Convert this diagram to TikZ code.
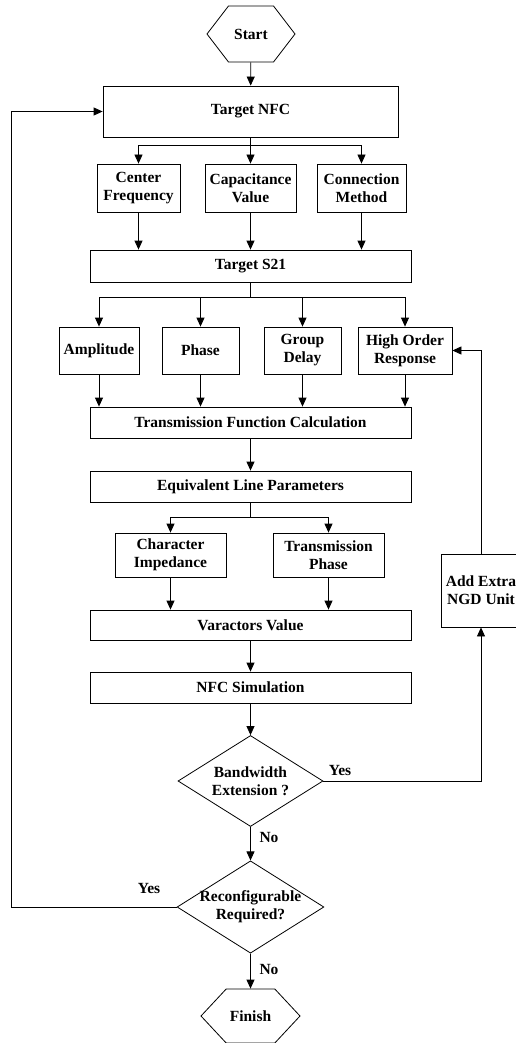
\documentclass[tikz,border=0pt]{standalone}
\usepackage{fontspec}
\setmainfont{Liberation Serif}
\usepackage{tikz}
\usetikzlibrary{arrows.meta,positioning,shapes.geometric,shapes.symbols}

\begin{document}
\begin{tikzpicture}[
  x=1pt, y=1pt,
  every node/.style={font=\fontsize{15.5}{18}\selectfont\bfseries},
  box/.style={draw,line width=0.8pt,align=center,minimum width=321pt,minimum height=31pt,inner sep=1pt},
  sbox/.style={draw,line width=0.8pt,align=center,minimum height=47pt,inner sep=1pt},
  dec/.style={draw,line width=0.8pt,diamond,aspect=1.59,align=center,minimum width=145pt,minimum height=91pt,inner sep=0pt,inner xsep=-3pt},
  term/.style={draw,line width=0.8pt,signal,signal to=west and east,inner sep=0pt},
  arrow/.style={-{Triangle[length=9pt,width=8pt]},line width=0.8pt}
]
  \useasboundingbox (0,0) rectangle (516,-1043);
  % main column
  \node[term,signal pointer angle=105,minimum width=88pt,minimum height=56pt] (start) at (251,-34) {Start};
  \node[box,minimum width=295pt,minimum height=51pt] (nfc) at (250.5,-111.5) {Target NFC};
  \node[sbox,minimum width=83pt,minimum height=48pt] (cf) at (138.5,-188) {Center\\Frequency};
  \node[sbox,minimum width=91pt,minimum height=48pt] (cv) at (250.5,-188) {Capacitance\\Value};
  \node[sbox,minimum width=89pt,minimum height=48pt] (cm) at (361.5,-188) {Connection\\Method};
  \node[box,minimum height=32pt] (s21) at (250.5,-266) {Target S21};
  \node[sbox,minimum width=80pt] (amp) at (99,-350.5) {Amplitude};
  \node[sbox,minimum width=77pt] (ph) at (200.5,-350.5) {Phase};
  \node[sbox,minimum width=77pt] (gd) at (302.5,-350.5) {Group\\Delay};
  \node[sbox,minimum width=94pt] (hor) at (405,-350.5) {High Order\\Response};
  \node[box] (tfc) at (250.5,-422.5) {Transmission Function Calculation};
  \node[box] (elp) at (250.5,-486.5) {Equivalent Line Parameters};
  \node[sbox,minimum width=111pt,minimum height=44pt] (ci) at (170.5,-555) {Character\\Impedance};
  \node[sbox,minimum width=111pt,minimum height=44pt] (tp) at (328.5,-555) {Transmission\\Phase};
  \node[box,minimum height=30pt] (vv) at (250.5,-625) {Varactors Value};
  \node[box] (sim) at (250.5,-687.5) {NFC Simulation};
  \node[dec] (bw) at (250.5,-781) {Bandwidth\\Extension ?};
  \node[sbox,minimum width=79pt,minimum height=73pt] (extra) at (481,-590.5) {Add Extra\\NGD Unit};
  \node[dec] (rc) at (250.5,-907) {Reconfigurable\\Required?};
  \node[term,signal pointer angle=94,minimum width=99pt,minimum height=54pt] (fin) at (250.5,-1016) {Finish};
  % labels
  \node (yes1) at (340,-770) {Yes};
  \node (no1) at (269,-837) {No};
  \node (yes2) at (149,-888) {Yes};
  \node (no2) at (269,-969) {No};
  \coordinate (lp) at (11,-907);

  \draw[arrow] (start) -- (nfc);
  \draw[arrow] (nfc.south) -- ++(0,-8) -| (cf.north);
  \draw[arrow] (nfc.south) -- (cv.north);
  \draw[arrow] (nfc.south) -- ++(0,-8) -| (cm.north);
  \foreach \n in {cf,cv,cm} \draw[arrow] (\n.south) -- (\n.south |- s21.north);
  \draw[arrow] (s21.south) -- ++(0,-15) -| (amp.north);
  \draw[arrow] (s21.south) -- ++(0,-15) -| (ph.north);
  \draw[arrow] (s21.south) -- ++(0,-15) -| (gd.north);
  \draw[arrow] (s21.south) -- ++(0,-15) -| (hor.north);
  \foreach \n in {amp,ph,gd,hor} \draw[arrow] (\n.south) -- (\n.south |- tfc.north);
  \draw[arrow] (tfc) -- (elp);
  \draw[arrow] (elp.south) -- ++(0,-15) -| (ci.north);
  \draw[arrow] (elp.south) -- ++(0,-15) -| (tp.north);
  \foreach \n in {ci,tp} \draw[arrow] (\n.south) -- (\n.south |- vv.north);
  \draw[arrow] (vv) -- (sim);
  \draw[arrow] (sim) -- (bw);
  \draw[arrow] (bw.east) -| (extra.south);
  \draw[arrow] (extra.north) |- (hor.east);
  \draw[arrow] (bw) -- (rc);
  \draw[arrow] (rc.west) -- (lp) |- (nfc.west);
  \draw[arrow] (rc) -- (fin);
\end{tikzpicture}
\end{document}
